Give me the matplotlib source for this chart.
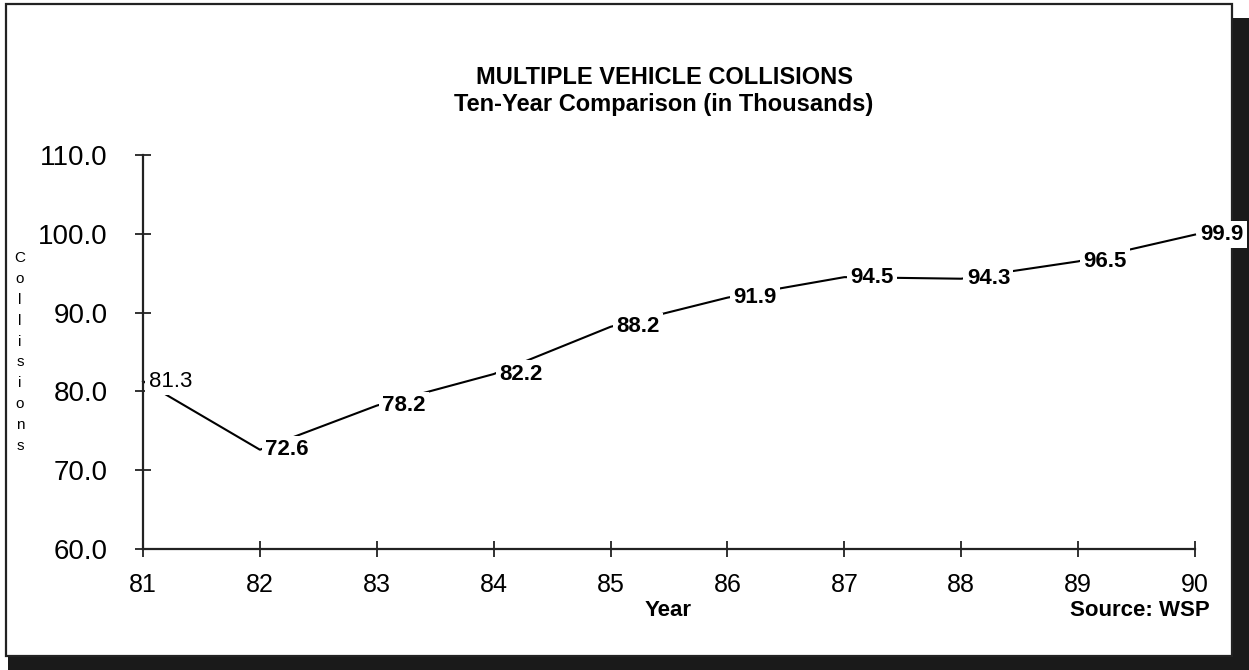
import matplotlib
matplotlib.use("Agg")
import matplotlib.pyplot as plt
from matplotlib.patches import Rectangle

years = [81, 82, 83, 84, 85, 86, 87, 88, 89, 90]
collisions = [81.3, 72.6, 78.2, 82.2, 88.2, 91.9, 94.5, 94.3, 96.5, 99.9]
bold_labels = [False, True, True, True, True, True, True, True, True, True]
yticks = [60, 70, 80, 90, 100, 110]
title1 = "MULTIPLE VEHICLE COLLISIONS"
title2 = "Ten-Year Comparison (in Thousands)"
ylabel = "Collisions"

plt.rcParams['font.family'] = ['Liberation Sans', 'DejaVu Sans']

W, H = 1249, 670
fig = plt.figure(figsize=(W / 100, H / 100), dpi=100)
fig.patch.set_facecolor('white')

def fx(px):
    return px / W

def fy(py):
    return 1 - py / H

# frame with shadow
fig.add_artist(Rectangle((fx(1233), fy(670)), fx(1249) - fx(1233), fy(18) - fy(670),
                         transform=fig.transFigure, facecolor='#1a1a1a', edgecolor='none', zorder=-3))
fig.add_artist(Rectangle((fx(8), fy(670)), fx(1249) - fx(8), fy(656) - fy(670),
                         transform=fig.transFigure, facecolor='#1a1a1a', edgecolor='none', zorder=-3))
fig.add_artist(Rectangle((fx(6), fy(656)), fx(1232) - fx(6), fy(4) - fy(656),
                         transform=fig.transFigure, facecolor='white', edgecolor='#222222',
                         linewidth=1.6, zorder=-2))

ax = fig.add_axes([fx(143), fy(549), fx(1195) - fx(143), fy(155) - fy(549)])
ax.set_facecolor('none')
ax.set_zorder(1)
ax.set_xlim(years[0], years[-1])
ax.set_ylim(yticks[0], yticks[-1])

ax.plot(years, collisions, color='black', lw=1.5, zorder=2, clip_on=False)

for x, v, b in zip(years, collisions, bold_labels):
    ax.annotate(f"{v:.1f}", (x, v), xytext=(4, 0), textcoords='offset points',
                ha='left', va='center', fontsize=16,
                fontweight='bold' if b else 'normal',
                bbox=dict(boxstyle='square,pad=0.15', facecolor='white', edgecolor='none'),
                zorder=3, annotation_clip=False)

for s in ['top', 'right']:
    ax.spines[s].set_visible(False)
for s in ['left', 'bottom']:
    ax.spines[s].set_linewidth(1.6)
    ax.spines[s].set_color('#222222')

ax.set_xticks(years)
ax.set_xticklabels([str(y) for y in years])
ax.set_yticks(yticks)
ax.set_yticklabels([f"{t:.1f}" for t in yticks])
ax.tick_params(axis='both', direction='inout', length=11, width=1.3, colors='#222222',
               labelsize=18, labelcolor='black')
ax.tick_params(axis='x', pad=12)
ax.tick_params(axis='y', pad=20, labelsize=20)

fig.text(fx(664), fy(77), title1, ha='center', va='center', fontsize=17, fontweight='bold')
fig.text(fx(664), fy(104), title2, ha='center', va='center', fontsize=17, fontweight='bold')

fig.text(fx(668), fy(610), "Year", ha='center', va='center', fontsize=16, fontweight='bold')
fig.text(fx(1210), fy(610), "Source: WSP", ha='right', va='center', fontsize=16, fontweight='bold')

fig.text(fx(20), fy(352), "\n".join(ylabel), ha='center', va='center', fontsize=11,
         linespacing=1.62)

fig.savefig("out.png", dpi=100, facecolor='white')
